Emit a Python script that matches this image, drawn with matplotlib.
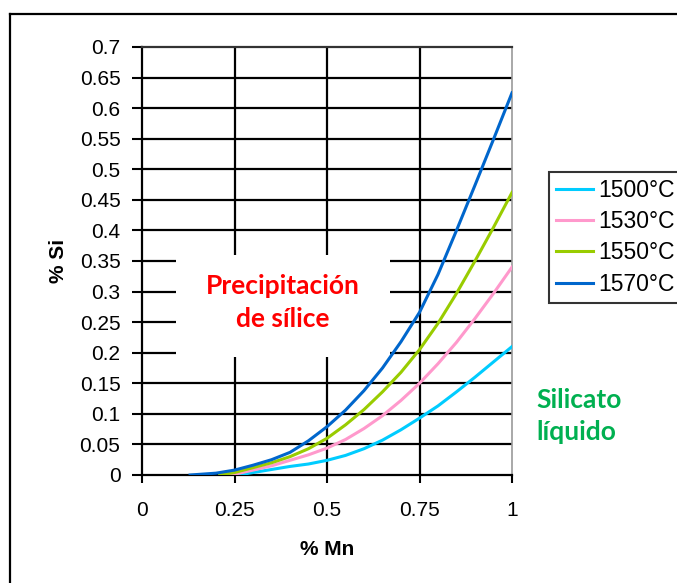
import matplotlib
matplotlib.use("Agg")
import matplotlib.pyplot as plt
from matplotlib.patches import Rectangle
from matplotlib.lines import Line2D

plt.rcParams['font.family'] = ['Liberation Sans', 'DejaVu Sans']

# % Mn / % Si readings for each temperature
mn_1500 = [0.26, 0.30, 0.35, 0.40, 0.45, 0.50, 0.55, 0.60, 0.65, 0.70, 0.75, 0.80, 0.85, 0.90, 0.95, 1.00]
si_1500 = [0.0, 0.004, 0.009, 0.014, 0.018, 0.024, 0.032, 0.043, 0.057, 0.074, 0.093, 0.113, 0.136, 0.160, 0.185, 0.210]

mn_1530 = [0.24, 0.30, 0.35, 0.40, 0.45, 0.50, 0.55, 0.60, 0.65, 0.70, 0.75, 0.80, 0.85, 0.90, 0.95, 1.00]
si_1530 = [0.0, 0.008, 0.015, 0.024, 0.033, 0.044, 0.058, 0.076, 0.097, 0.122, 0.150, 0.182, 0.217, 0.256, 0.297, 0.340]

mn_1550 = [0.21, 0.25, 0.30, 0.35, 0.40, 0.45, 0.50, 0.55, 0.60, 0.65, 0.70, 0.75, 0.80, 0.85, 0.90, 0.95, 1.00]
si_1550 = [0.0, 0.004, 0.012, 0.020, 0.030, 0.043, 0.060, 0.082, 0.107, 0.136, 0.168, 0.205, 0.248, 0.297, 0.350, 0.405, 0.462]

mn_1570 = [0.13, 0.20, 0.25, 0.30, 0.35, 0.40, 0.45, 0.50, 0.55, 0.60, 0.65, 0.70, 0.75, 0.80, 0.85, 0.90, 0.95, 1.00]
si_1570 = [0.0, 0.003, 0.008, 0.016, 0.025, 0.037, 0.056, 0.079, 0.106, 0.138, 0.175, 0.218, 0.266, 0.328, 0.400, 0.474, 0.549, 0.625]

labels = ['1500°C', '1530°C', '1550°C', '1570°C']
colors = ['#00CCFF', '#FF99CC', '#99CC00', '#0066CC']

x_ticks = [0, 0.25, 0.5, 0.75, 1]
x_ticklabels = ['0', '0.25', '0.5', '0.75', '1']
y_ticks = [round(0.05 * i, 2) for i in range(15)]
y_ticklabels = ['0', '0.05', '0.1', '0.15', '0.2', '0.25', '0.3', '0.35', '0.4',
                '0.45', '0.5', '0.55', '0.6', '0.65', '0.7']

fig = plt.figure(figsize=(6.77, 5.83), dpi=100)
ax = fig.add_axes([142 / 677, 1 - 475 / 583, 370 / 677, 428 / 583])

# outer chart border (cut off at right and bottom)
fig.add_artist(Line2D([10 / 677, 10 / 677], [0, 1 - 14 / 583], color='black', lw=1.6))
fig.add_artist(Line2D([10 / 677, 1], [1 - 14 / 583, 1 - 14 / 583], color='black', lw=1.6))

# grid
for yv in y_ticks[1:-1]:
    ax.axhline(yv, color='black', lw=1.6, zorder=1)
for xv in x_ticks[1:-1]:
    ax.axvline(xv, color='black', lw=1.6, zorder=1)

# white box behind the label
ax.add_patch(Rectangle((0.092, 0.193), 0.578, 0.167, facecolor='white',
                       edgecolor='none', zorder=2))

series = [(mn_1500, si_1500), (mn_1530, si_1530), (mn_1550, si_1550), (mn_1570, si_1570)]
for (xs, ys), lab, c in zip(series, labels, colors):
    ax.plot(xs, ys, color=c, lw=2.2, label=lab, zorder=3)

ax.set_xlim(0, 1)
ax.set_ylim(0, 0.7)
ax.set_xticks(x_ticks)
ax.set_xticklabels(x_ticklabels)
ax.set_yticks(y_ticks)
ax.set_yticklabels(y_ticklabels)
ax.tick_params(axis='both', labelsize=15, width=1.5, direction='out')
ax.tick_params(axis='x', length=6, pad=13)
ax.tick_params(axis='y', length=7, pad=8.5)

for s in ['left', 'bottom']:
    ax.spines[s].set_linewidth(1.6)
    ax.spines[s].set_color('black')
ax.spines['top'].set_color('#333333')
ax.spines['top'].set_linewidth(1.6)
ax.spines['right'].set_color('#999999')
ax.spines['right'].set_linewidth(1.2)

ax.set_xlabel('% Mn', fontsize=15, fontweight='bold', labelpad=14)
ax.set_ylabel('% Si', fontsize=15, fontweight='bold', labelpad=8)

ax.text(0.381, 0.282, 'Precipitación\nde sílice', color='#FF0000', fontsize=19,
        fontweight='bold', family=['Lato', 'DejaVu Sans'], ha='center', va='center',
        linespacing=1.45, zorder=4)
fig.text(536 / 677, 1 - 416 / 583, 'Silicato\nlíquido', color='#00B050', fontsize=19,
         fontweight='bold', family=['Lato', 'DejaVu Sans'], ha='left', va='center',
         linespacing=1.45)

leg = fig.legend(loc='upper left', bbox_to_anchor=(549 / 677, 1 - 172 / 583),
                 fontsize=16.5, frameon=True, fancybox=False, handlelength=1.6,
                 handletextpad=0.25, labelspacing=0.36, borderpad=0.3,
                 borderaxespad=0)
leg.get_frame().set_edgecolor('black')
leg.get_frame().set_linewidth(1.5)

fig.savefig('out.png', dpi=100)
